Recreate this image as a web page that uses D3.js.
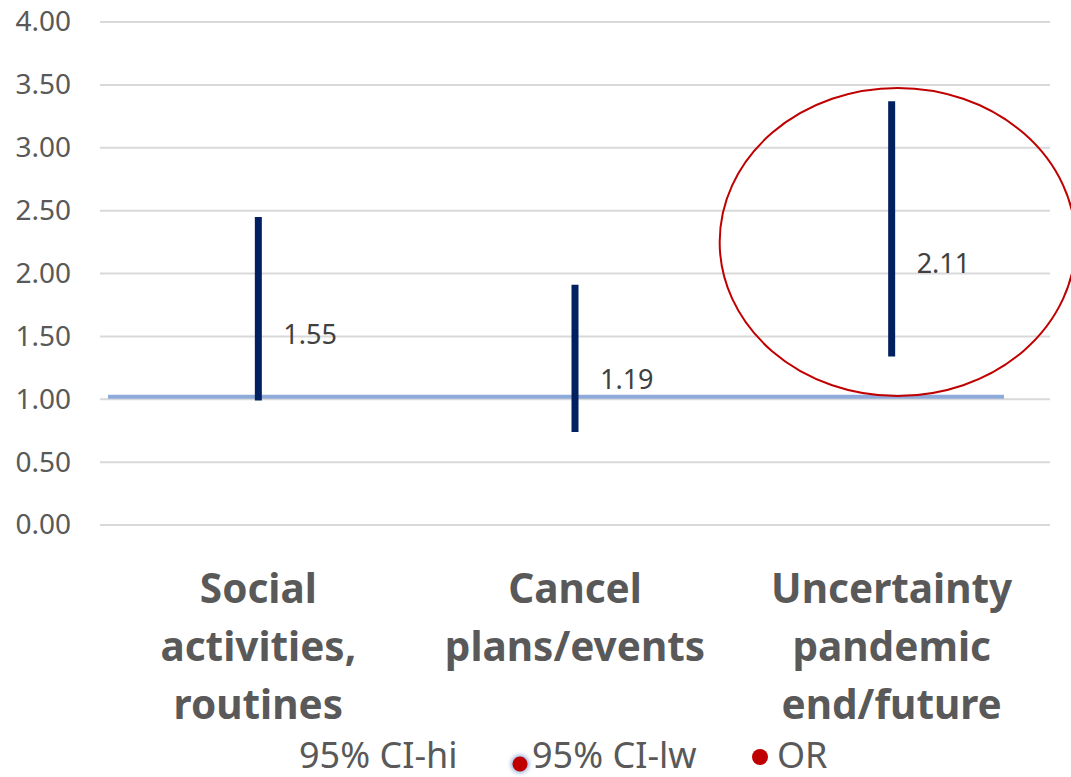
<!DOCTYPE html>
<html><head><meta charset="utf-8">
<script src="https://cdn.jsdelivr.net/npm/d3@7"></script>
<style>
body{margin:0;background:#fff;}
svg{display:block;font-family:"Noto Sans","Open Sans",sans-serif;}
</style></head>
<body><svg id="c" width="1071" height="777"></svg>
<script>
const categories = [["Social","activities,","routines"],["Cancel","plans/events"],["Uncertainty","pandemic","end/future"]];
const ciHi = [2.45, 1.91, 3.37];
const ciLo = [0.99, 0.74, 1.34];
const orVals = [1.55, 1.19, 2.11];
const yTicks = [0,0.5,1,1.5,2,2.5,3,3.5,4];
const refValue = 1.02;
const legendLabels = ["95% CI-hi","95% CI-lw","OR"];

const svg = d3.select("#c");
const x = d3.scaleBand().domain(d3.range(categories.length)).range([100,1050]);
const y = d3.scaleLinear().domain([0,4]).range([525,22]);

// gridlines
svg.append("g").selectAll("line").data(yTicks).join("line")
  .attr("x1",100).attr("x2",1050)
  .attr("y1",d=>y(d)).attr("y2",d=>y(d))
  .attr("stroke","#d9d9d9").attr("stroke-width",2);

// y axis labels
const yAxis = d3.axisLeft(y).tickValues(yTicks).tickFormat(d3.format(".2f")).tickSize(0).tickPadding(0);
const ga = svg.append("g").attr("transform","translate(71,0)").call(yAxis);
ga.select(".domain").remove();
ga.selectAll("text").attr("font-size",28).attr("fill","#595959").attr("font-family","Noto Sans");

// reference line
svg.append("line").attr("x1",x.range()[0]+8).attr("x2",1004)
  .attr("y1",y(refValue)).attr("y2",y(refValue))
  .attr("stroke","#8eaadb").attr("stroke-width",4);

// CI bars
const cx = i => x(i)+x.bandwidth()/2;
svg.append("g").selectAll("line").data(d3.range(categories.length)).join("line")
  .attr("x1",cx).attr("x2",cx)
  .attr("y1",i=>y(ciHi[i])).attr("y2",i=>y(ciLo[i]))
  .attr("stroke","#002060").attr("stroke-width",7);

// OR labels
svg.append("g").selectAll("text").data(d3.range(categories.length)).join("text")
  .attr("x",i=>cx(i)+25).attr("y",i=>y(orVals[i])+3)
  .attr("dominant-baseline","central")
  .attr("font-size",27).attr("fill","#404040")
  .text(i=>orVals[i].toFixed(2));

// annotation ellipse around third category
svg.append("ellipse").attr("cx",cx(2)+6).attr("cy",242).attr("rx",178).attr("ry",154)
  .attr("fill","none").attr("stroke","#c00000").attr("stroke-width",2);

// category labels
const cl = svg.append("g");
categories.forEach((lines,i)=>{
  const t = cl.append("text").attr("text-anchor","middle").attr("font-weight","bold")
    .attr("font-size",40.5).attr("fill","#595959");
  lines.forEach((ln,j)=>{
    t.append("tspan").attr("x",cx(i)).attr("y",587+j*58).attr("dominant-baseline","central").text(ln);
  });
});

// legend
const defs = svg.append("defs");
const f = defs.append("filter").attr("id","glow").attr("x","-100%").attr("y","-100%").attr("width","300%").attr("height","300%");
f.append("feGaussianBlur").attr("stdDeviation",2);
const lg = svg.append("g").attr("font-size",36).attr("fill","#595959");
lg.append("text").attr("x",299).attr("y",754).attr("dominant-baseline","central").text(legendLabels[0]);
lg.append("circle").attr("cx",520).attr("cy",764).attr("r",9).attr("fill","#8eaadb").attr("filter","url(#glow)");
lg.append("circle").attr("cx",520).attr("cy",764).attr("r",7.5).attr("fill","#c00000");
lg.append("text").attr("x",532).attr("y",754).attr("dominant-baseline","central").text(legendLabels[1]);
lg.append("circle").attr("cx",760).attr("cy",757).attr("r",8).attr("fill","#c00000");
lg.append("text").attr("x",777).attr("y",754).attr("dominant-baseline","central").text(legendLabels[2]);
</script></body></html>
